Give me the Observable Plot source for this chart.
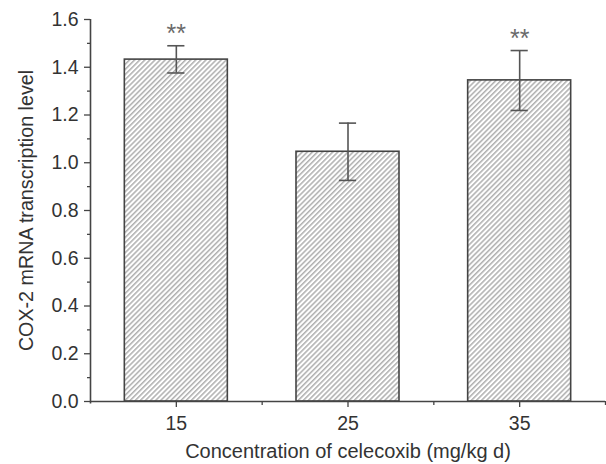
<!DOCTYPE html>
<html>
<head>
<meta charset="utf-8">
<script src="https://cdn.jsdelivr.net/npm/d3@7"></script>
<script src="https://cdn.jsdelivr.net/npm/@observablehq/plot@0.6"></script>
<style>
  html, body { margin: 0; padding: 0; background: #fff; }
</style>
</head>
<body>
<div id="chart"></div>
<script>
const concentrations = [15, 25, 35];
const means = [1.432, 1.046, 1.345];
const errLow = [1.376, 0.926, 1.219];
const errHigh = [1.490, 1.166, 1.470];
const marks = ["**", "", "**"];
const yTicks = [0, 0.2, 0.4, 0.6, 0.8, 1.0, 1.2, 1.4, 1.6];
const yMinorTicks = [0.1, 0.3, 0.5, 0.7, 0.9, 1.1, 1.3, 1.5];
const xTicks = [15, 25, 35];
const xMinorTicks = [20, 30, 40];
const xLabel = "Concentration of celecoxib (mg/kg d)";
const yLabel = "COX-2 mRNA transcription level";

const data = concentrations.map((c, i) => ({c, m: means[i], lo: errLow[i], hi: errHigh[i], s: marks[i]}));
const halfBar = 3, halfCap = 0.5;
const ink = "#444";
const tickFont = 19.5;

const svg = Plot.plot({
  width: 606,
  height: 464,
  marginLeft: 90,
  marginRight: 1,
  marginTop: 19,
  marginBottom: 63,
  style: {fontFamily: "'Liberation Sans', Arial, sans-serif", fontSize: "19px", color: "#333", background: "#fff"},
  x: {domain: [10, 40]},
  y: {domain: [0, 1.6]},
  marks: [
    Plot.rectY(data, {x1: d => d.c - halfBar, x2: d => d.c + halfBar, y: "m", fill: "url(#hatch)", stroke: ink, strokeWidth: 1.6}),
    Plot.ruleX(data, {x: "c", y1: "lo", y2: "hi", stroke: "#555", strokeWidth: 1.6}),
    Plot.ruleY(data, {y: "hi", x1: d => d.c - halfCap, x2: d => d.c + halfCap, stroke: "#555", strokeWidth: 1.6}),
    Plot.ruleY(data, {y: "lo", x1: d => d.c - halfCap, x2: d => d.c + halfCap, stroke: "#555", strokeWidth: 1.6}),
    Plot.text(data, {x: "c", y: "hi", text: "s", dy: -12, fontSize: 25, fill: "#6a6a6a"}),
    Plot.axisY({ticks: yTicks, tickSize: 6, tickPadding: 6, tickFormat: ".1f", label: null, stroke: ink, strokeWidth: 1.3, fontSize: tickFont, fill: "#333"}),
    Plot.axisY({ticks: yMinorTicks, tickSize: 3, tickFormat: () => "", label: null, stroke: ink, strokeWidth: 1.3}),
    Plot.axisX({ticks: xTicks, tickSize: 6, tickPadding: 9, tickFormat: d => String(d), label: null, stroke: ink, strokeWidth: 1.3, fontSize: tickFont, fill: "#333"}),
    Plot.axisX({ticks: xMinorTicks, tickSize: 4, tickFormat: () => "", label: null, stroke: ink, strokeWidth: 1.3}),
    Plot.ruleX([10], {y1: -0.01, y2: 1.6, stroke: ink, strokeWidth: 1.6}),
    Plot.ruleY([0], {stroke: ink, strokeWidth: 1.6}),
    Plot.text([xLabel], {frameAnchor: "bottom", dy: 56, fontSize: 20, fill: "#333"}),
    Plot.text([yLabel], {frameAnchor: "left", textAnchor: "middle", dx: -64, rotate: -90, fontSize: 19.7, fill: "#333"})
  ]
});

const defs = d3.select(svg).insert("defs", ":first-child");
const pat = defs.append("pattern")
  .attr("id", "hatch")
  .attr("patternUnits", "userSpaceOnUse")
  .attr("width", 3.6)
  .attr("height", 3.6)
  .attr("patternTransform", "rotate(45)");
pat.append("rect").attr("width", 3.6).attr("height", 3.6).attr("fill", "#fff");
pat.append("line").attr("x1", 0.8).attr("y1", 0).attr("x2", 0.8).attr("y2", 3.6)
  .attr("stroke", "#9a9a9a").attr("stroke-width", 1.2);

document.getElementById("chart").appendChild(svg);
</script>
</body>
</html>
